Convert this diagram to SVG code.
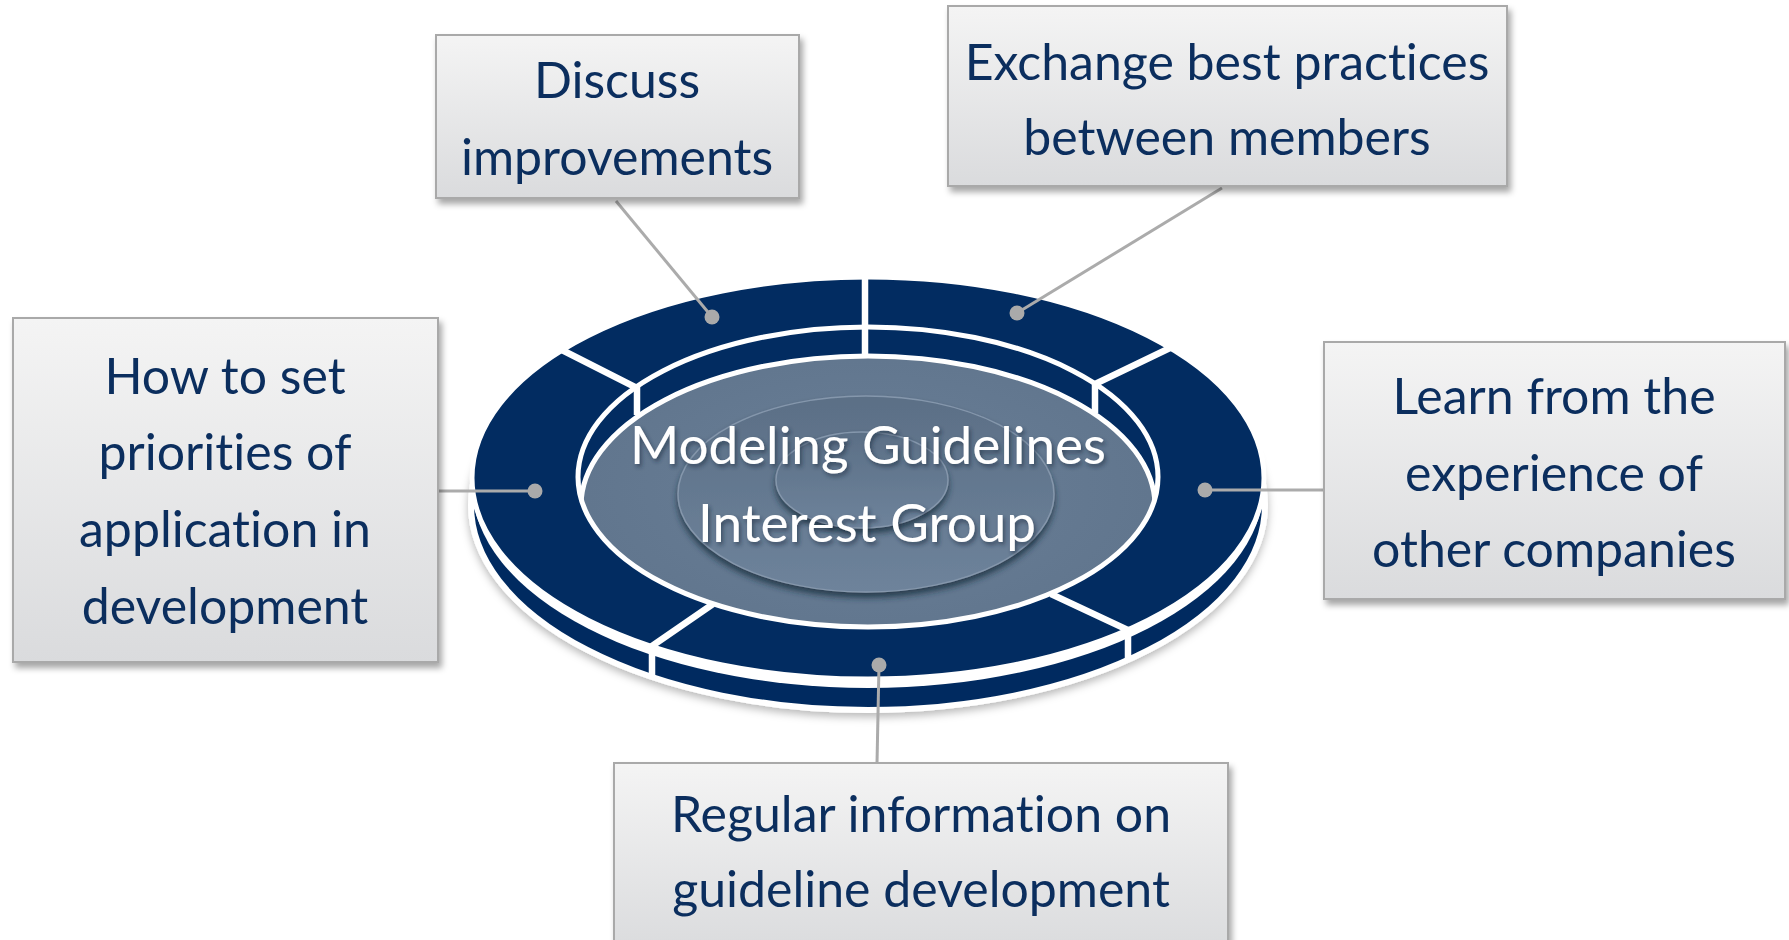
<svg xmlns="http://www.w3.org/2000/svg" width="1789" height="940" viewBox="0 0 1789 940">
<defs>
  <linearGradient id="boxGrad" x1="0" y1="0" x2="0" y2="1">
    <stop offset="0" stop-color="#F4F4F4"/>
    <stop offset="1" stop-color="#DADBDD"/>
  </linearGradient>
  <filter id="boxShadow" x="-10%" y="-10%" width="125%" height="130%">
    <feDropShadow dx="3" dy="5" stdDeviation="3" flood-color="#000" flood-opacity="0.35"/>
  </filter>
  <filter id="discShadow" x="-10%" y="-10%" width="120%" height="125%">
    <feDropShadow dx="0" dy="4" stdDeviation="4" flood-color="#000" flood-opacity="0.28"/>
  </filter>
  <filter id="textShadow" x="-10%" y="-20%" width="120%" height="150%">
    <feDropShadow dx="2" dy="3" stdDeviation="2" flood-color="#1a2a40" flood-opacity="0.6"/>
  </filter>
  <filter id="bump" x="-10%" y="-10%" width="120%" height="130%">
    <feDropShadow dx="0" dy="5" stdDeviation="3" flood-color="#1f2d40" flood-opacity="0.8"/>
  </filter>
  <clipPath id="innerClip">
    <ellipse cx="868" cy="477" rx="290" ry="150"/>
  </clipPath>
  <radialGradient id="grayGrad" cx="0.5" cy="0.45" r="0.6">
    <stop offset="0" stop-color="#6A7F97"/>
    <stop offset="1" stop-color="#5F748C"/>
  </radialGradient>
  <linearGradient id="bumpGrad" x1="0" y1="0" x2="0" y2="1">
    <stop offset="0" stop-color="#5B6F86"/>
    <stop offset="1" stop-color="#6E839B"/>
  </linearGradient>
</defs>
<style>
  .box { fill: url(#boxGrad); stroke: #A9A9A9; stroke-width: 2; filter: url(#boxShadow); }
  .label { font-family: Lato, "Open Sans", "Liberation Sans", sans-serif; font-size: 50px; fill: #0B2E5E; text-anchor: middle; font-variant-ligatures: none; font-feature-settings: "liga" 0; }
  .center { font-family: Lato, "Open Sans", "Liberation Sans", sans-serif; font-size: 53px; fill: #FFFFFF; text-anchor: middle; filter: url(#textShadow); font-variant-ligatures: none; }
  .navy { fill: #022C61; }
  .rim { fill: none; stroke: #FFFFFF; stroke-width: 5; }
  .divider { stroke: #FFFFFF; stroke-width: 6.5; fill: none; stroke-linecap: butt; }
  .conn { stroke: #ABABAB; stroke-width: 3; fill: none; }
  .dot { fill: #AAAAAA; }
  .bump { fill: url(#bumpGrad); stroke: #8597AC; stroke-width: 1.5; filter: url(#bump); }
</style>

<g id="ring">
  <ellipse cx="868" cy="505" rx="397" ry="205" class="navy" stroke="#FFFFFF" stroke-width="6" filter="url(#discShadow)"/>
  <ellipse cx="868" cy="485" rx="396" ry="203" fill="#FFFFFF"/>
  <ellipse cx="868" cy="478" rx="396" ry="201" class="navy" stroke="#FFFFFF" stroke-width="5"/>
  <ellipse cx="868" cy="477" rx="290" ry="150" class="navy"/>
  <g clip-path="url(#innerClip)">
    <ellipse cx="868" cy="506" rx="287" ry="150" fill="url(#grayGrad)" stroke="#FFFFFF" stroke-width="5"/>
  </g>
  <ellipse cx="868" cy="477" rx="290" ry="150" class="rim" stroke-width="6"/>
  <path class="divider" d="M865,274 L865,357"/>
  <path class="divider" d="M560,349 L637,388 L637,415"/>
  <path class="divider" d="M1172,347 L1095,384 L1095,413"/>
  <path class="divider" d="M713,604 L652,646 L652,677"/>
  <path class="divider" d="M1051,594 L1128,630 L1128,659"/>
</g>

<g id="center-bumps">
  <ellipse class="bump" cx="866" cy="494" rx="188" ry="98"/>
  <ellipse class="bump" cx="862" cy="480" rx="86" ry="48"/>
</g>

<g id="center-title">
  <text class="center" x="868" y="464">Modeling Guidelines</text>
  <text class="center" x="867" y="542">Interest Group</text>
</g>

<g id="connectors">
  <line class="conn" x1="616" y1="201" x2="712" y2="317"/>
  <line class="conn" x1="1222" y1="188" x2="1017" y2="313"/>
  <line class="conn" x1="438" y1="491" x2="535" y2="491"/>
  <line class="conn" x1="1205" y1="490" x2="1324" y2="490"/>
  <line class="conn" x1="879" y1="665" x2="877" y2="763"/>
  <circle class="dot" cx="712" cy="317" r="7.5"/>
  <circle class="dot" cx="1017" cy="313" r="7.5"/>
  <circle class="dot" cx="535" cy="491" r="7.5"/>
  <circle class="dot" cx="1205" cy="490" r="7.5"/>
  <circle class="dot" cx="879" cy="665" r="7.5"/>
</g>

<g id="node-discuss">
  <rect class="box" x="436" y="35" width="363" height="163"/>
  <text class="label" x="617" y="98">Discuss</text>
  <text class="label" x="617" y="175">improvements</text>
</g>

<g id="node-exchange">
  <rect class="box" x="948" y="6" width="559" height="180"/>
  <text class="label" x="1227" y="80">Exchange best practices</text>
  <text class="label" x="1227" y="155">between members</text>
</g>

<g id="node-priorities">
  <rect class="box" x="13" y="318" width="425" height="344"/>
  <text class="label" x="225" y="394">How to set</text>
  <text class="label" x="225" y="470">priorities of</text>
  <text class="label" x="225" y="547">application in</text>
  <text class="label" x="225" y="624">development</text>
</g>

<g id="node-learn">
  <rect class="box" x="1324" y="342" width="461" height="257"/>
  <text class="label" x="1554" y="414">Learn from the</text>
  <text class="label" x="1554" y="491">experience of</text>
  <text class="label" x="1554" y="567">other companies</text>
</g>

<g id="node-regular">
  <rect class="box" x="614" y="763" width="614" height="190"/>
  <text class="label" x="921" y="832">Regular information on</text>
  <text class="label" x="921" y="907">guideline development</text>
</g>
</svg>
